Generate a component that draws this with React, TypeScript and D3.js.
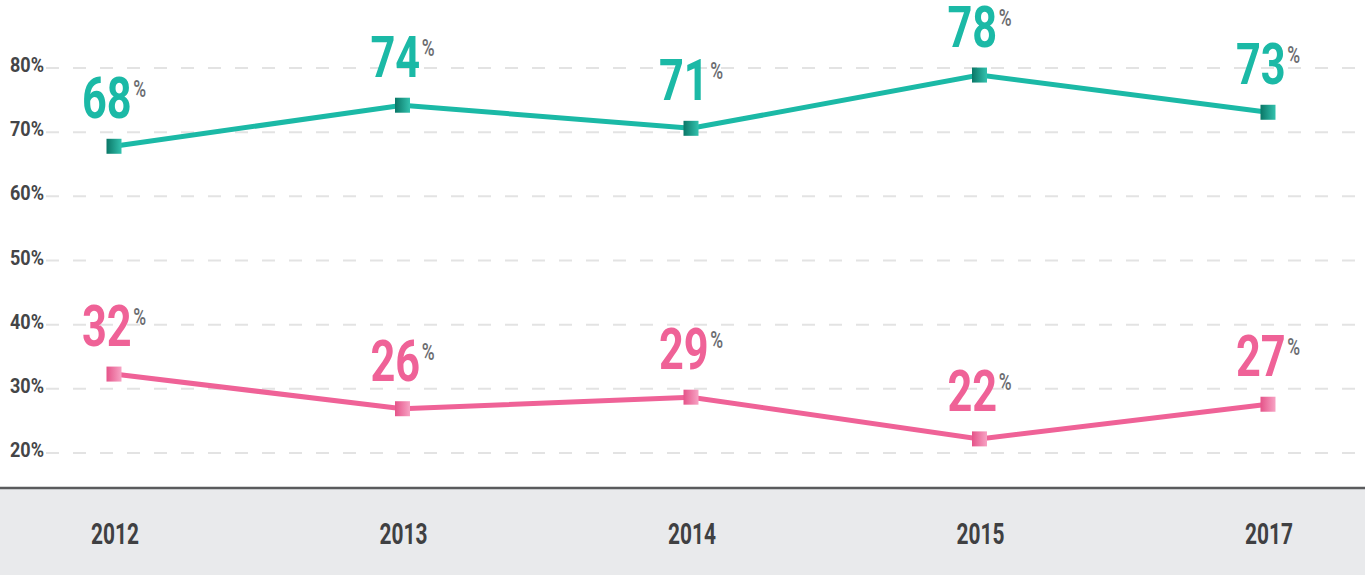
import React from "react";
import * as d3 from "d3";

const years = ["2012", "2013", "2014", "2015", "2017"];
const tealValues = [67.8, 74.2, 70.6, 78.9, 73.1];
const tealLabels = ["68", "74", "71", "78", "73"];
const pinkValues = [32.3, 26.9, 28.7, 22.2, 27.6];
const pinkLabels = ["32", "26", "29", "22", "27"];
const yTicks = [20, 30, 40, 50, 60, 70, 80];

const W = 1365;
const H = 575;
const FONT = "Roboto, 'DejaVu Sans', sans-serif";

export default function App() {
  const x = d3.scalePoint<string>().domain(years).range([114, 1268]);
  const y = d3.scaleLinear().domain([20, 80]).range([453, 68]);
  const line = d3
    .line<number>()
    .x((_, i) => x(years[i]) as number)
    .y((d) => y(d));

  const series = [
    { values: tealValues, labels: tealLabels, color: "#1bb9a6", grad: "gTeal" },
    { values: pinkValues, labels: pinkLabels, color: "#ef6297", grad: "gPink" },
  ];

  return (
    <svg
      width={W}
      height={H}
      style={{ position: "absolute", left: 0, top: 0, display: "block" }}
      fontFamily={FONT}
    >
      <defs>
        <linearGradient id="gTeal" x1="0" x2="1" y1="0" y2="0">
          <stop offset="0%" stopColor="#0a7767" />
          <stop offset="100%" stopColor="#33c2ae" />
        </linearGradient>
        <linearGradient id="gPink" x1="0" x2="1" y1="0" y2="0">
          <stop offset="0%" stopColor="#e55389" />
          <stop offset="100%" stopColor="#f7a3c4" />
        </linearGradient>
      </defs>
      <rect x={0} y={0} width={W} height={H} fill="#ffffff" />
      <rect x={0} y={488} width={W} height={H - 488} fill="#e9eaec" />
      <line x1={0} x2={W} y1={488} y2={488} stroke="#5a5b5d" strokeWidth={2.5} />

      {yTicks.map((t) => (
        <g key={t}>
          <line
            x1={46}
            x2={1362}
            y1={y(t)}
            y2={y(t)}
            stroke="#e3e3e3"
            strokeWidth={2}
            strokeDasharray="13 14"
          />
          <text
            transform={`translate(44,${y(t) + 4}) scale(0.9,1)`}
            textAnchor="end"
            fontSize={20}
            fontWeight="bold"
            fill="#444547"
          >
            {t}%
          </text>
        </g>
      ))}

      {years.map((yr) => (
        <text
          key={yr}
          transform={`translate(${(x(yr) as number) + 1},544) scale(0.72,1)`}
          textAnchor="middle"
          fontSize={29}
          fontWeight="bold"
          fill="#3f4042"
        >
          {yr}
        </text>
      ))}

      {series.map((s) => (
        <g key={s.grad}>
          <path d={line(s.values) || ""} fill="none" stroke={s.color} strokeWidth={5} />
          {s.values.map((v, i) => (
            <rect
              key={i}
              x={(x(years[i]) as number) - 7.5}
              y={y(v) - 7.5}
              width={15}
              height={15}
              fill={`url(#${s.grad})`}
            />
          ))}
          {s.values.map((v, i) => (
            <text
              key={"l" + i}
              transform={`translate(${x(years[i]) as number},${y(v) - 28}) scale(0.76,1)`}
              textAnchor="middle"
              fontWeight="bold"
            >
              <tspan fontSize={57} fill={s.color}>
                {s.labels[i]}
              </tspan>
              <tspan fontSize={23} fill="#6b6c70" fontWeight="500" dx={2} dy={-21}>
                %
              </tspan>
            </text>
          ))}
        </g>
      ))}
    </svg>
  );
}
